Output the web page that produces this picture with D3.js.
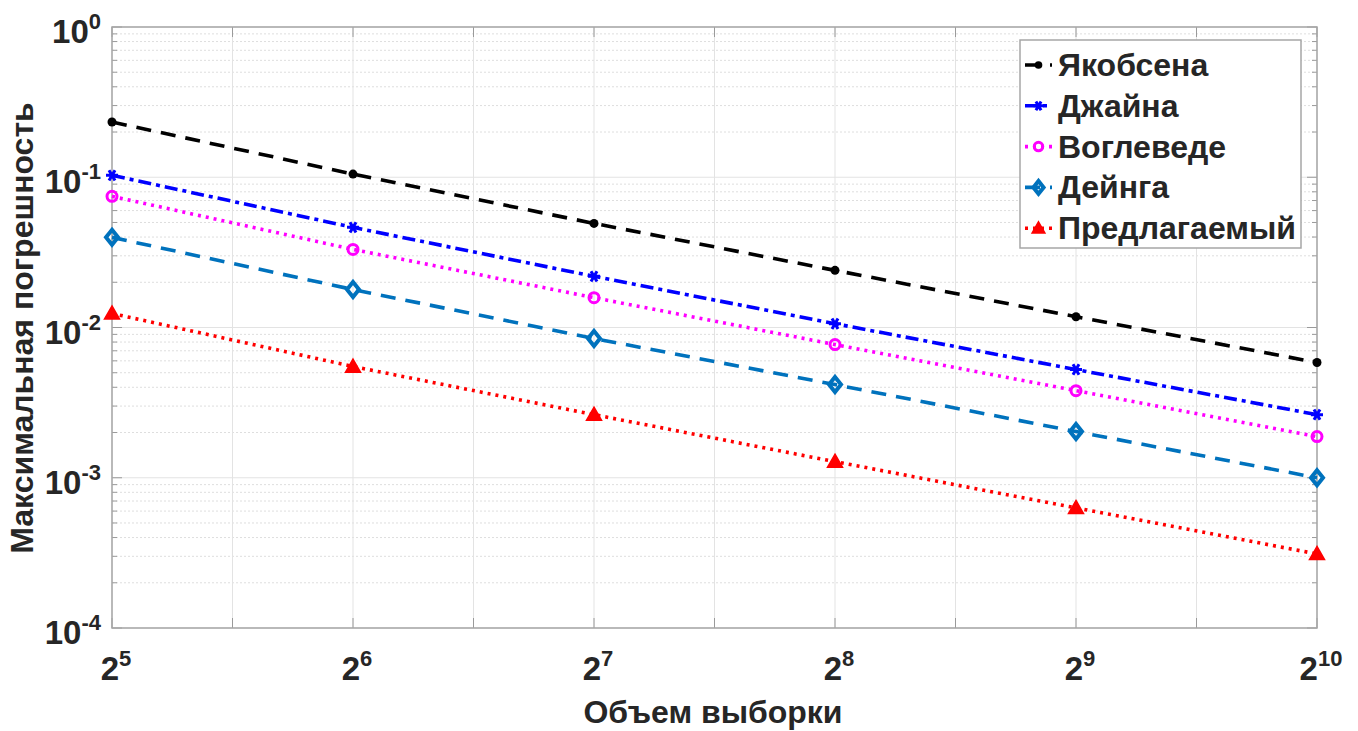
<!DOCTYPE html>
<html>
<head>
<meta charset="utf-8">
<script src="https://cdn.jsdelivr.net/npm/d3@7"></script>
<style>
  body { margin: 0; background: #fff; }
  text { font-family: "Liberation Sans", Arial, sans-serif; font-weight: bold; fill: #262626; }
</style>
</head>
<body>
<div id="chart"></div>
<script>
// sample sizes and max errors for each method
const sampleSizes = [32, 64, 128, 256, 512, 1024];
const seriesNames = ["Якобсена", "Джайна", "Воглеведе", "Дейнга", "Предлагаемый"];
const jacobsen = [0.233, 0.105, 0.0493, 0.024, 0.0118, 0.00585];
const jain = [0.103, 0.0464, 0.0219, 0.0106, 0.00525, 0.00263];
const voglewede = [0.0747, 0.0331, 0.0158, 0.0077, 0.0038, 0.00188];
const deying = [0.0398, 0.0179, 0.00845, 0.00417, 0.00203, 0.001];
const proposed = [0.0124, 0.0055, 0.00263, 0.00128, 0.00063, 0.000311];
const xTickExps = [5, 6, 7, 8, 9, 10];
const yTickExps = [0, -1, -2, -3, -4];

const width = 1358, height = 731;
const margin = {left: 112, right: 41, top: 27, bottom: 103};

const svg = d3.select("#chart").append("svg")
  .attr("width", width).attr("height", height);

const x = d3.scaleLog().base(2).domain([32, 1024]).range([margin.left, width - margin.right]);
const y = d3.scaleLog().domain([1e-4, 1]).range([height - margin.bottom, margin.top]);

const x0 = x.range()[0], x1 = x.range()[1], y0 = y.range()[0], y1 = y.range()[1];

// grid
const minorY = [];
for (let e = -4; e < 0; e++) for (let m = 2; m <= 9; m++) minorY.push(m * Math.pow(10, e));
const halfOct = d3.range(5, 10.01, 0.5).map(e => Math.pow(2, e));

const grid = svg.append("g");
grid.selectAll(".gmy").data(minorY).join("line")
  .attr("x1", x0).attr("x2", x1).attr("y1", d => y(d)).attr("y2", d => y(d))
  .attr("stroke", "#dedede").attr("stroke-width", 1).attr("stroke-dasharray", "2,2");
grid.selectAll(".gy").data(yTickExps.map(e => Math.pow(10, e))).join("line")
  .attr("x1", x0).attr("x2", x1).attr("y1", d => y(d)).attr("y2", d => y(d))
  .attr("stroke", "#e3e3e3").attr("stroke-width", 1);
grid.selectAll(".gx").data(halfOct).join("line")
  .attr("x1", d => x(d)).attr("x2", d => x(d)).attr("y1", y0).attr("y2", y1)
  .attr("stroke", "#e3e3e3").attr("stroke-width", 1);

// ticks inside on all four sides
const tk = svg.append("g").attr("stroke", "#9a9a9a").attr("stroke-width", 1);
[x0, x1].forEach((xx, i) => {
  const dir = i === 0 ? 1 : -1;
  tk.selectAll(null).data(minorY).join("line")
    .attr("x1", xx).attr("x2", xx + dir * 5).attr("y1", d => y(d)).attr("y2", d => y(d));
  tk.selectAll(null).data(yTickExps.map(e => Math.pow(10, e))).join("line")
    .attr("x1", xx).attr("x2", xx + dir * 10).attr("y1", d => y(d)).attr("y2", d => y(d));
});
[y0, y1].forEach((yy, i) => {
  const dir = i === 0 ? -1 : 1;
  tk.selectAll(null).data(halfOct).join("line")
    .attr("x1", d => x(d)).attr("x2", d => x(d)).attr("y1", yy).attr("y2", yy + dir * 10);
});

// axis box
svg.append("rect").attr("x", x0).attr("y", y1).attr("width", x1 - x0).attr("height", y0 - y1)
  .attr("fill", "none").attr("stroke", "#a6a6a6").attr("stroke-width", 1.5);

// tick labels
const yl = svg.append("g");
yTickExps.forEach(e => {
  const t = yl.append("text").attr("x", 101).attr("y", y(Math.pow(10, e)) + 16)
    .attr("text-anchor", "end").style("font-size", "33px");
  t.append("tspan").text("10");
  t.append("tspan").attr("dy", -14).style("font-size", "22px").text(e);
});
xTickExps.forEach(e => {
  const t = svg.append("text").attr("x", x(Math.pow(2, e)) + 4).attr("y", 680)
    .attr("text-anchor", "middle").style("font-size", "33px");
  t.append("tspan").text("2");
  t.append("tspan").attr("dy", -14).style("font-size", "22px").text(e);
});

// axis titles
svg.append("text").attr("x", 713).attr("y", 723).attr("text-anchor", "middle")
  .style("font-size", "32px").text("Объем выборки");
svg.append("text").attr("transform", "translate(33,328) rotate(-90)").attr("text-anchor", "middle")
  .style("font-size", "32px").text("Максимальная погрешность");

// series
const series = [
  {name: seriesNames[0], values: jacobsen, color: "#000000", dash: "15,10", marker: "dot"},
  {name: seriesNames[1], values: jain, color: "#0000ff", dash: "13,5,4,5", marker: "star"},
  {name: seriesNames[2], values: voglewede, color: "#ff00ff", dash: "3,5", marker: "circle"},
  {name: seriesNames[3], values: deying, color: "#0072bd", dash: "15,10", marker: "diamond"},
  {name: seriesNames[4], values: proposed, color: "#ff0000", dash: "3,5", marker: "triangle"}
];

const line = d3.line().x((d, i) => x(sampleSizes[i])).y(d => y(d));

function drawMarker(g, type, color, cx, cy, s) {
  s = s || 1;
  if (type === "dot") {
    g.append("circle").attr("cx", cx).attr("cy", cy).attr("r", 4.5 * s).attr("fill", color);
  } else if (type === "star") {
    const r = 6 * s;
    const p = d3.path();
    [0, 60, 120].forEach(a => {
      const ra = a * Math.PI / 180;
      p.moveTo(cx - r * Math.cos(ra), cy - r * Math.sin(ra));
      p.lineTo(cx + r * Math.cos(ra), cy + r * Math.sin(ra));
    });
    g.append("path").attr("d", p.toString()).attr("stroke", color).attr("stroke-width", 3).attr("fill", "none");
  } else if (type === "circle") {
    g.append("circle").attr("cx", cx).attr("cy", cy).attr("r", 5 * s)
      .attr("fill", "none").attr("stroke", color).attr("stroke-width", 3);
  } else if (type === "diamond") {
    const r = 7.5 * s;
    g.append("path").attr("d", `M${cx},${cy - r}L${cx + r * 0.8},${cy}L${cx},${cy + r}L${cx - r * 0.8},${cy}Z`)
      .attr("fill", "none").attr("stroke", color).attr("stroke-width", 4);
  } else if (type === "triangle") {
    const r = 7.5 * s;
    g.append("path").attr("d", `M${cx},${cy - r}L${cx + r},${cy + r * 0.75}L${cx - r},${cy + r * 0.75}Z`)
      .attr("fill", color).attr("stroke", color).attr("stroke-width", 1.5);
  }
}

series.forEach(s => {
  svg.append("path").datum(s.values).attr("d", line)
    .attr("fill", "none").attr("stroke", s.color).attr("stroke-width", 3.6)
    .attr("stroke-dasharray", s.dash);
  const g = svg.append("g");
  s.values.forEach((v, i) => drawMarker(g, s.marker, s.color, x(sampleSizes[i]), y(v)));
});

// legend
const lg = svg.append("g");
lg.append("rect").attr("x", 1020).attr("y", 40).attr("width", 281).attr("height", 208)
  .attr("fill", "#fff").attr("stroke", "#a6a6a6").attr("stroke-width", 1.5);
series.forEach((s, i) => {
  const yy = 65 + i * 40.8;
  lg.append("line").attr("x1", 1025).attr("x2", 1052).attr("y1", yy).attr("y2", yy)
    .attr("stroke", s.color).attr("stroke-width", 3.6).attr("stroke-dasharray", s.dash);
  drawMarker(lg, s.marker, s.color, 1038.5, yy, 0.85);
  lg.append("text").attr("x", 1058).attr("y", yy + 11).style("font-size", "32px").text(s.name);
});
</script>
</body>
</html>
